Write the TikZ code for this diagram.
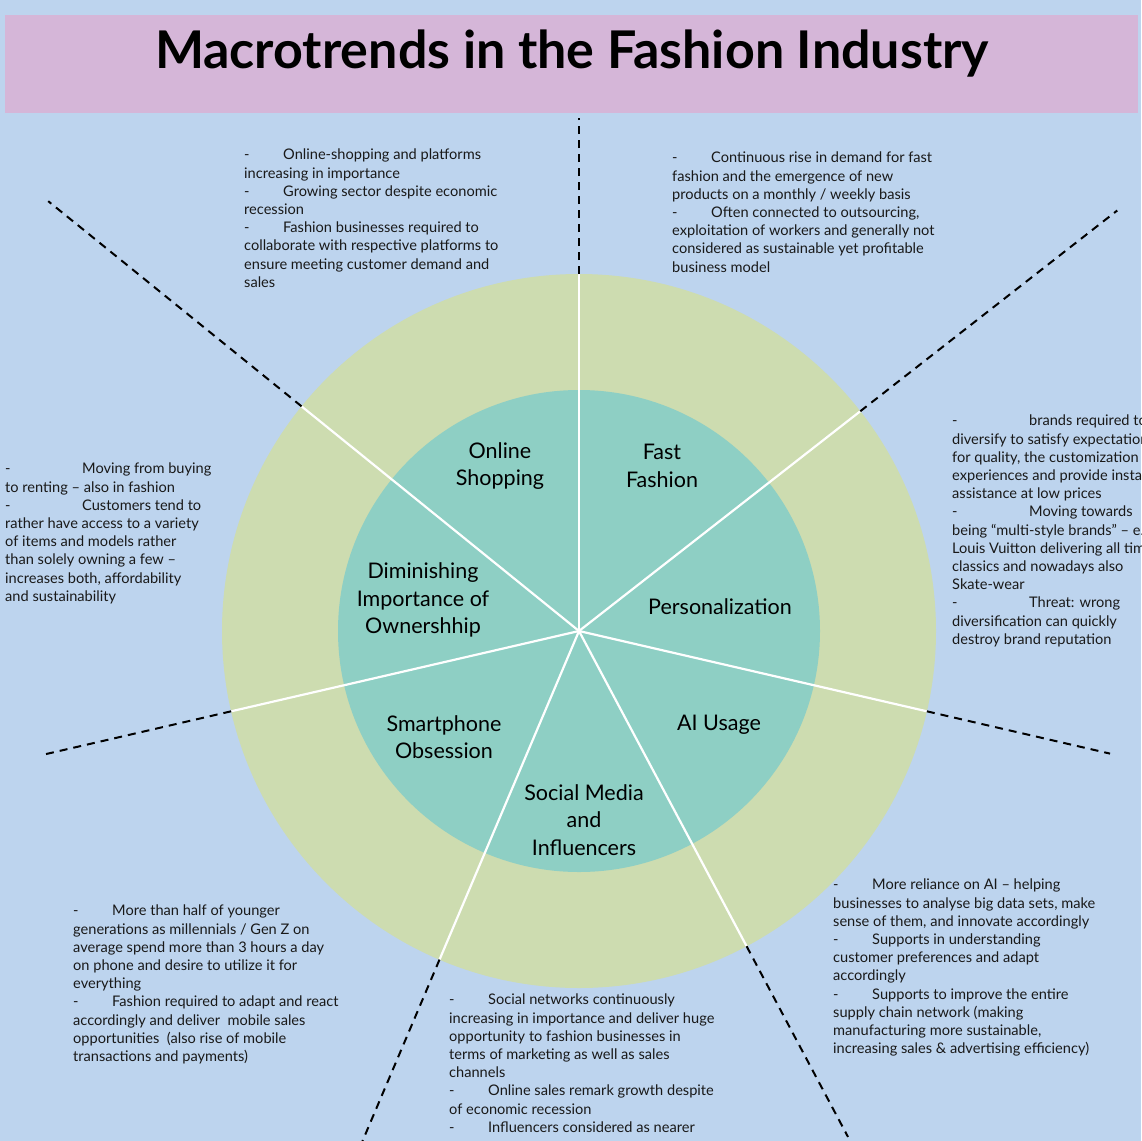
\documentclass[tikz,border=0pt]{standalone}
\usepackage{fontspec}
\setmainfont{Lato}
\usetikzlibrary{calc}
\definecolor{bg}{HTML}{BDD4EE}
\definecolor{titlebg}{HTML}{D5B6D8}
\definecolor{outerc}{HTML}{CDDCB0}
\definecolor{innerc}{HTML}{8ECFC4}
\newcommand{\dsh}{-\hspace{2.3em}}
\begin{document}
\begin{tikzpicture}[x=1pt,y=-1pt,
  body/.style={anchor=north west,inner sep=0pt,align=left,font=\fontsize{14.6}{18.2}\selectfont,text=black!90},
  lab/.style={align=center,inner sep=0pt,font=\fontsize{21.5}{27.5}\selectfont},
  wl/.style={white,line width=2.2pt},
  dl/.style={black,line width=2pt,dash pattern=on 8pt off 6pt}]
\useasboundingbox (0,0) rectangle (1141,1141);
\clip (0,0) rectangle (1141,1141);
\fill[bg] (0,0) rectangle (1141,1141);
\fill[titlebg] (5,15) rectangle (1138,113);
\node[font=\fontsize{52}{56}\bfseries\selectfont] (title) at (572,54) {Macrotrends in the Fashion Industry};
\coordinate (c) at (579,631);
\fill[outerc] (c) circle (357);
\fill[innerc] (c) circle (241);
\foreach \a/\l in {90/513,38/683,-13/545,-62/573,-113/555,193/548,141/683}{
  \draw[wl] (c) -- ($(c)+({cos(\a)*357},{-sin(\a)*357})$);
  \draw[dl] ($(c)+({cos(\a)*357},{-sin(\a)*357})$) -- ($(c)+({cos(\a)*\l},{-sin(\a)*\l})$);
}
\node[lab] (n1) at (500,466) {Online\\Shopping};
\node[lab] (n2) at (662,466) {Fast\\Fashion};
\node[lab] (n3) at (423,600) {Diminishing\\Importance of\\Ownershhip};
\node[lab] (n4) at (720,607) {Personalization};
\node[lab] (n5) at (444,737) {Smartphone\\Obsession};
\node[lab] (n6) at (719,725) {AI Usage};
\node[lab] (n7) at (584,820) {Social Media\\and\\Influencers};
\node[body] (t1) at (244,149) {\dsh Online-shopping and platforms\\increasing in importance\\\dsh Growing sector despite economic\\recession\\\dsh Fashion businesses required to\\collaborate with respective platforms to\\ensure meeting customer demand and\\sales};
\node[body] (t2) at (672,152) {\dsh Continuous rise in demand for fast\\fashion and the emergence of new\\products on a monthly / weekly basis\\\dsh Often connected to outsourcing,\\exploitation of workers and generally not\\considered as sustainable yet profitable\\business model};
\node[body] (t3) at (952,415) {-\hspace{4.9em}brands required to\\diversify to satisfy expectations\\for quality, the customization\\experiences and provide instant\\assistance at low prices\\-\hspace{4.9em}Moving towards\\being “multi-style brands” – e.g.\\Louis Vuitton delivering all time\\classics and nowadays also\\Skate-wear\\-\hspace{4.9em}Threat: wrong\\diversification can quickly\\destroy brand reputation};
\node[body] (t4) at (5,463) {-\hspace{4.9em}Moving from buying\\to renting – also in fashion\\-\hspace{4.9em}Customers tend to\\rather have access to a variety\\of items and models rather\\than solely owning a few –\\increases both, affordability\\and sustainability};
\node[body] (t5) at (73,905) {\dsh More than half of younger\\generations as millennials / Gen Z on\\average spend more than 3 hours a day\\on phone and desire to utilize it for\\everything\\\dsh Fashion required to adapt and react\\accordingly and deliver\ \ mobile sales\\opportunities\ \ (also rise of mobile\\transactions and payments)};
\node[body] (t6) at (449,994) {\dsh Social networks continuously\\increasing in importance and deliver huge\\opportunity to fashion businesses in\\terms of marketing as well as sales\\channels\\\dsh Online sales remark growth despite\\of economic recession\\\dsh Influencers considered as nearer};
\node[body] (t7) at (833,879) {\dsh More reliance on AI – helping\\businesses to analyse big data sets, make\\sense of them, and innovate accordingly\\\dsh Supports in understanding\\customer preferences and adapt\\accordingly\\\dsh Supports to improve the entire\\supply chain network (making\\manufacturing more sustainable,\\increasing sales \& advertising efficiency)};
\end{tikzpicture}
\end{document}
